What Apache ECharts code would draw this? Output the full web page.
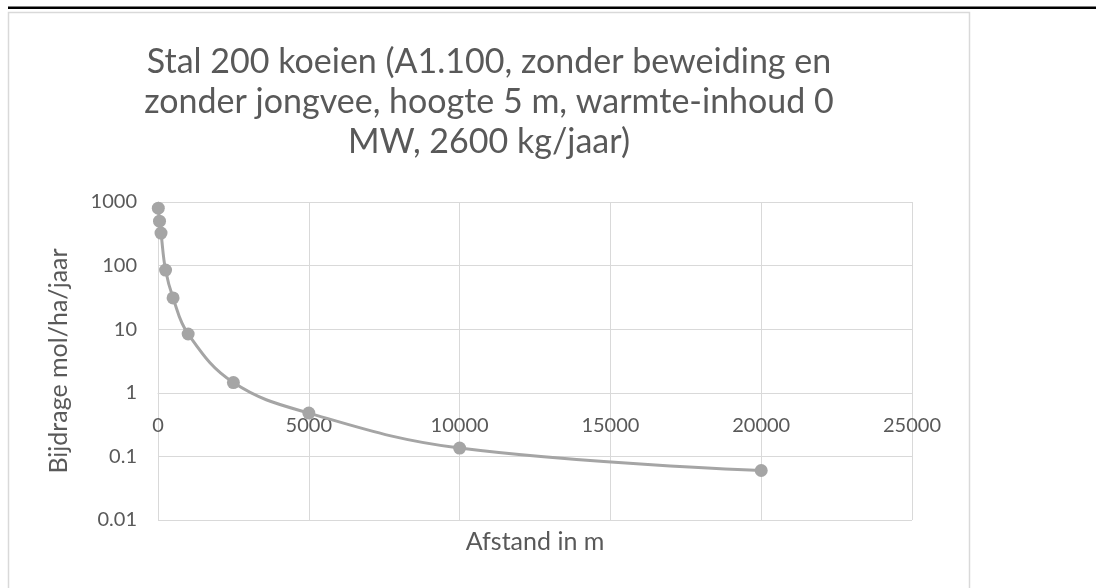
<!DOCTYPE html>
<html>
<head>
<meta charset="utf-8">
<script src="https://cdn.jsdelivr.net/npm/echarts@6/dist/echarts.min.js"></script>
<style>
html,body{margin:0;padding:0;background:#fff;}
#c{width:1096px;height:588px;}
</style>
</head>
<body>
<div id="c"></div>
<script>
var titleText = 'Stal 200 koeien (A1.100, zonder beweiding en\nzonder jongvee, hoogte 5 m, warmte-inhoud 0\nMW, 2600 kg/jaar)';
var xAxisName = 'Afstand in m';
var yAxisName = 'Bijdrage mol/ha/jaar';
var distances = [10, 50, 100, 250, 500, 1000, 2500, 5000, 10000, 20000];
var contributions = [800, 500, 325, 85, 31, 8.4, 1.45, 0.48, 0.135, 0.06];
var xTicks = [0, 5000, 10000, 15000, 20000, 25000];
var yTicks = [0.01, 0.1, 1, 10, 100, 1000];

var FONT = 'Lato';
var chart = echarts.init(document.getElementById('c'), null, {renderer: 'canvas'});
var option = {
  backgroundColor: '#ffffff',
  animation: false,
  graphic: [
    {type: 'rect', shape: {x: 8.5, y: 12.5, width: 961, height: 600}, style: {fill: '#ffffff', stroke: '#d9d9d9', lineWidth: 1.5}, z: -10},
    {type: 'rect', shape: {x: 8, y: 6.5, width: 1088, height: 2.5}, style: {fill: '#000000'}, z: -5}
  ],
  title: {
    text: titleText,
    left: 489,
    top: 42,
    padding: 0,
    textAlign: 'center',
    textStyle: {fontFamily: FONT, fontSize: 34, fontWeight: 'normal', color: '#595959', lineHeight: 40}
  },
  grid: {left: 158, right: 184, top: 202, bottom: 68, containLabel: false},
  xAxis: {
    type: 'value',
    min: xTicks[0],
    max: xTicks[xTicks.length - 1],
    interval: xTicks[1] - xTicks[0],
    offset: -127,
    name: xAxisName,
    nameLocation: 'middle',
    nameGap: 136,
    nameTextStyle: {fontFamily: FONT, fontSize: 25, color: '#595959'},
    axisLine: {show: true, lineStyle: {color: '#d9d9d9', width: 1}},
    axisTick: {show: false},
    axisLabel: {
      fontFamily: FONT, fontSize: 20, color: '#595959', margin: 23,
      formatter: function (v) { return String(v); }
    },
    splitLine: {show: true, lineStyle: {color: '#d9d9d9', width: 1}}
  },
  yAxis: {
    type: 'log',
    logBase: 10,
    min: yTicks[0],
    max: yTicks[yTicks.length - 1],
    name: yAxisName,
    nameLocation: 'middle',
    nameRotate: 90,
    nameGap: 87,
    nameTextStyle: {fontFamily: FONT, fontSize: 25, color: '#595959'},
    axisLine: {show: true, lineStyle: {color: '#d9d9d9', width: 1}},
    axisTick: {show: false},
    axisLabel: {
      fontFamily: FONT, fontSize: 20, color: '#595959', margin: 21,
      formatter: function (v) { return String(+v.toPrecision(6)); }
    },
    splitLine: {show: true, lineStyle: {color: '#d9d9d9', width: 1}}
  },
  series: [{
    type: 'line',
    data: distances.map(function (d, i) { return [d, contributions[i]]; }),
    smooth: 0.4,
    symbol: 'circle',
    symbolSize: 13,
    lineStyle: {color: '#a5a5a5', width: 3},
    itemStyle: {color: '#a5a5a5'},
    z: 5
  }]
};
chart.setOption(option);
</script>
</body>
</html>
